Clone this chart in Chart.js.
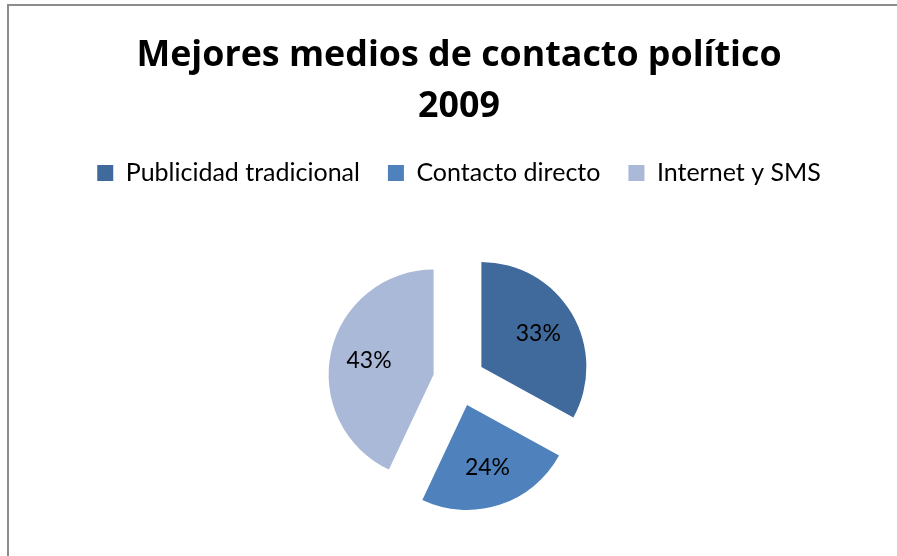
<!DOCTYPE html>
<html>
<head>
<meta charset="utf-8">
<script src="https://cdn.jsdelivr.net/npm/chart.js@4.4.1/dist/chart.umd.min.js"></script>
<style>
  html, body { margin: 0; padding: 0; background: #fff; overflow: hidden; }
  body { width: 897px; height: 556px; position: relative; }
  #frame {
    position: absolute; left: 7px; top: 4px; width: 1000px; height: 700px;
    border-left: 2px solid #8c8c8c; border-top: 2px solid #8c8c8c;
  }
  #wrap { position: absolute; left: 0; top: 0; width: 897px; height: 565px; }
</style>
</head>
<body>
<div id="frame"></div>
<div id="wrap"><canvas id="chartMedios"></canvas></div>
<script>
const titulo = ['Mejores medios de contacto político', '2009'];
const categorias = ['Publicidad tradicional', 'Contacto directo', 'Internet y SMS'];
const porcentajes = [33, 24, 43];
const colores = ['#406A9B', '#4F81BD', '#AAB9D7'];

const EXPLODE = 26;

// desplaza cada sector hacia fuera (pie "explotado")
const explodePlugin = {
    id: 'explode',
    beforeDatasetDraw(chart, args) {
        const ctx = chart.ctx;
        args.meta.data.forEach(arc => {
            const mid = (arc.startAngle + arc.endAngle) / 2;
            ctx.save();
            ctx.translate(Math.cos(mid) * EXPLODE, Math.sin(mid) * EXPLODE);
            arc.draw(ctx);
            ctx.restore();
        });
        return false;
    },
    afterDatasetsDraw(chart) {
        const ctx = chart.ctx;
        const meta = chart.getDatasetMeta(0);
        ctx.save();
        ctx.font = '23px Lato';
        ctx.fillStyle = '#000';
        ctx.textAlign = 'center';
        ctx.textBaseline = 'middle';
        meta.data.forEach((arc, i) => {
            const mid = (arc.startAngle + arc.endAngle) / 2;
            const d = EXPLODE + arc.outerRadius * 0.63;
            ctx.fillText(porcentajes[i] + '%', arc.x + Math.cos(mid) * d, arc.y + Math.sin(mid) * d);
        });
        ctx.restore();
    }
};

new Chart(document.getElementById('chartMedios').getContext('2d'), {
    type: 'pie',
    data: {
        labels: categorias,
        datasets: [{
            data: porcentajes,
            backgroundColor: colores,
            borderWidth: 0,
            radius: 105
        }]
    },
    options: {
        responsive: true,
        maintainAspectRatio: false,
        animation: false,
        layout: { padding: { left: 21 } },
        plugins: {
            title: {
                display: true,
                text: titulo,
                color: '#000',
                font: { family: '"Open Sans"', size: 35.8, weight: 'bold', lineHeight: 1.425 },
                padding: { top: 30.5, bottom: 0 }
            },
            legend: {
                position: 'top',
                labels: {
                    color: '#000',
                    font: { family: 'Lato', size: 25 },
                    boxWidth: 16,
                    boxHeight: 16,
                    padding: 28
                }
            },
            tooltip: { enabled: false }
        }
    },
    plugins: [explodePlugin]
});
</script>
</body>
</html>
